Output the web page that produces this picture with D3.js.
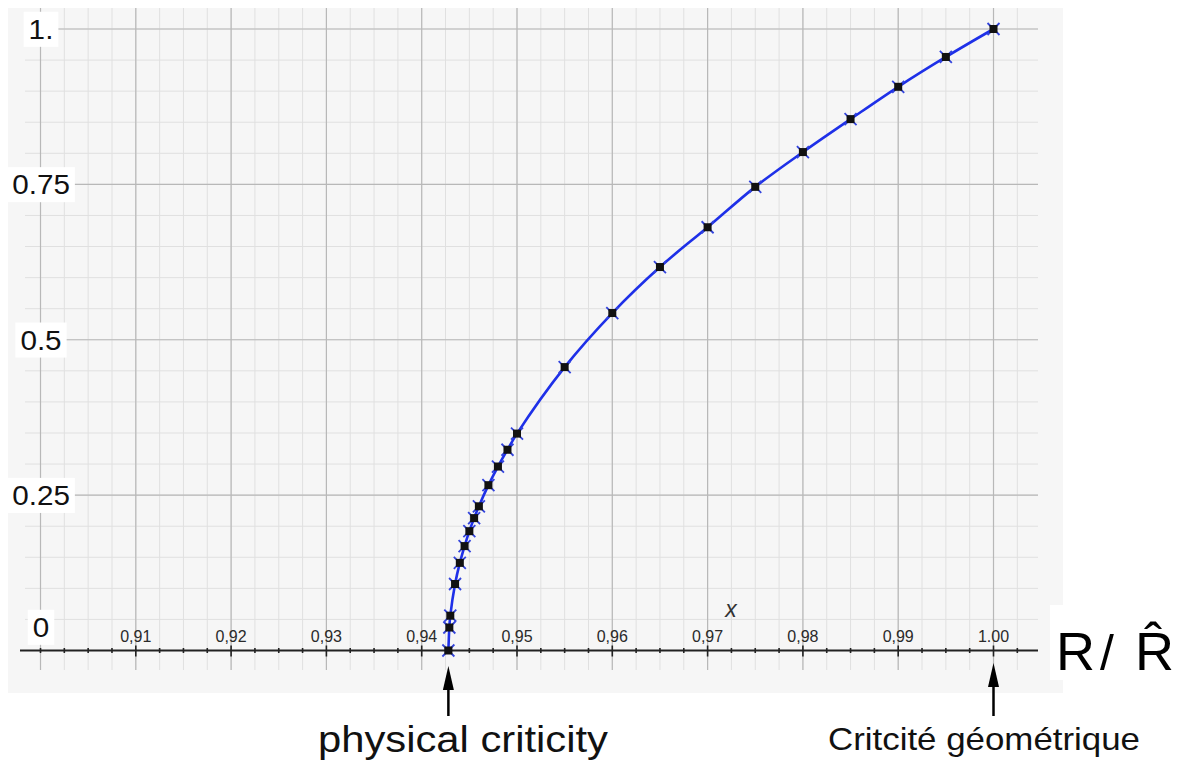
<!DOCTYPE html>
<html>
<head>
<meta charset="utf-8">
<script src="https://cdn.jsdelivr.net/npm/d3@7/dist/d3.min.js"></script>
<style>
  html, body { margin: 0; padding: 0; background: #ffffff; }
  svg { display: block; }
  text { font-family: "Liberation Sans", Arial, Helvetica, sans-serif; }
</style>
</head>
<body>
<svg id="chart" width="1183" height="764"></svg>
<script>
// ---- data ----
const xValues = [0.9428, 0.9429, 0.9430, 0.9435, 0.9440, 0.9445, 0.9450, 0.9455, 0.9460,
                 0.9470, 0.9480, 0.9490, 0.9500, 0.9550, 0.9600, 0.9650, 0.9700, 0.9750,
                 0.9800, 0.9850, 0.9900, 0.9950, 1.0000];
const yValues = [0.000, 0.037, 0.056, 0.107, 0.141, 0.168, 0.192, 0.213, 0.232,
                 0.266, 0.296, 0.323, 0.349, 0.456, 0.543, 0.617, 0.681, 0.746,
                 0.802, 0.855, 0.907, 0.955, 1.000];
const xTickValues = [0.91, 0.92, 0.93, 0.94, 0.95, 0.96, 0.97, 0.98, 0.99, 1.00];
const xTickLabels = ["0,91", "0,92", "0,93", "0,94", "0,95", "0,96", "0,97", "0,98", "0,99", "1.00"];
const yTickValues = [1, 0.75, 0.5, 0.25, 0];
const yTickLabels = ["1.", "0.75", "0.5", "0.25", "0"];
const annotations = ["physical criticity", "Critcité géométrique"];
const annotationX = [0.9428, 1.00];

// ---- scales ----
const x = d3.scaleLinear().domain([0.90, 1.00]).range([40.5, 993.5]);
const y = d3.scaleLinear().domain([0, 1]).range([650.5, 29]);

const svg = d3.select("#chart");

// background panel
svg.append("rect").attr("x", 8).attr("y", 8).attr("width", 1055).attr("height", 685)
  .attr("fill", "#f6f6f6");

// grid
const gx0 = 25, gx1 = 1038, gy0 = 8, gy1 = 670;
const vMinor = d3.range(0, 42).map(i => +(0.90 + i * 0.0025).toFixed(4)).filter(v => x(v) <= gx1);
const vMajor = vMinor.filter(v => Math.abs(v * 100 - Math.round(v * 100)) < 1e-6);
const hMinor = d3.range(0, 21).map(i => +(i * 0.05).toFixed(2));
const hMajor = hMinor.filter(v => Math.abs(v * 4 - Math.round(v * 4)) < 1e-6);

const grid = svg.append("g");
grid.selectAll(".vminor").data(vMinor).join("line")
  .attr("x1", d => x(d)).attr("x2", d => x(d)).attr("y1", gy0).attr("y2", gy1)
  .attr("stroke", "#e0e0e0").attr("stroke-width", 1);
grid.selectAll(".hminor").data(hMinor).join("line")
  .attr("x1", gx0).attr("x2", gx1).attr("y1", d => y(d)).attr("y2", d => y(d))
  .attr("stroke", "#e0e0e0").attr("stroke-width", 1);
grid.selectAll(".vmajor").data(vMajor).join("line")
  .attr("x1", d => x(d)).attr("x2", d => x(d)).attr("y1", gy0).attr("y2", gy1)
  .attr("stroke", "#b8b8b8").attr("stroke-width", 1.2);
grid.selectAll(".hmajor").data(hMajor.filter(v => v > 0)).join("line")
  .attr("x1", gx0).attr("x2", gx1).attr("y1", d => y(d)).attr("y2", d => y(d))
  .attr("stroke", "#b8b8b8").attr("stroke-width", 1.2);

// x axis line with ticks
const axis = svg.append("g");
axis.append("line").attr("x1", 20).attr("x2", 1038).attr("y1", y(0)).attr("y2", y(0))
  .attr("stroke", "#222").attr("stroke-width", 2);
axis.selectAll(".tk").data(vMinor).join("line")
  .attr("x1", d => x(d)).attr("x2", d => x(d))
  .attr("y1", d => y(0) - (xTickValues.some(t => Math.abs(t - d) < 1e-6) ? 5 : 2.5))
  .attr("y2", d => y(0) + (xTickValues.some(t => Math.abs(t - d) < 1e-6) ? 6 : 2.5))
  .attr("stroke", "#222").attr("stroke-width", 1.6);
axis.selectAll(".tl").data(xTickValues).join("text")
  .attr("x", d => x(d)).attr("y", 642)
  .attr("text-anchor", "middle").attr("font-size", 16).attr("fill", "#2a2a2a")
  .text((d, i) => xTickLabels[i]);

// "x" axis name
svg.append("text").attr("x", 731).attr("y", 617).attr("text-anchor", "middle")
  .attr("font-family", "'Liberation Serif', 'DejaVu Serif', serif")
  .attr("font-style", "italic").attr("font-size", 23).attr("fill", "#333").text("x");

// curve
const pts = xValues.map((v, i) => [v, yValues[i]]);
svg.append("path").datum(pts)
  .attr("d", d3.line().x(d => x(d[0])).y(d => y(d[1])).curve(d3.curveCatmullRom.alpha(0.5)))
  .attr("fill", "none").attr("stroke", "#1e30e8").attr("stroke-width", 2.6);

// markers
const mk = svg.append("g").selectAll("g").data(pts).join("g")
  .attr("transform", d => `translate(${x(d[0])},${y(d[1])})`);
mk.append("path").attr("d", "M-6,-6L6,6M-6,6L6,-6")
  .attr("stroke", "#3344dd").attr("stroke-width", 1.8);
mk.append("rect").attr("x", -4).attr("y", -4).attr("width", 8).attr("height", 8)
  .attr("fill", "#111");

// y labels with white boxes
const yl = svg.append("g");
const ys = 1.06;
yTickValues.forEach((v, i) => {
  const g = yl.append("g");
  const by = v === 0 ? 637 : y(v) + 10;
  const t = g.append("text").attr("text-anchor", "middle")
    .attr("transform", `translate(41,${by}) scale(${ys},1)`)
    .attr("font-size", 28).attr("fill", "#111").text(yTickLabels[i]);
  const bb = t.node().getBBox();
  g.insert("rect", "text")
    .attr("x", 41 + bb.x * ys - 5).attr("y", by + bb.y - 2)
    .attr("width", bb.width * ys + 10).attr("height", bb.height + 4)
    .attr("fill", "#ffffff");
});

// R / R-hat label
const rg = svg.append("g");
rg.append("rect").attr("x", 1050).attr("y", 605).attr("width", 133).attr("height", 75).attr("fill", "#fff");
const rt = rg.append("text").attr("y", 670).attr("font-size", 54).attr("fill", "#000")
  .attr("font-family", "'DejaVu Sans', 'Liberation Sans', sans-serif");
rt.append("tspan").attr("x", 1056).text("R");
rt.append("tspan").attr("x", 1100).attr("font-size", 50).text("/");
rt.append("tspan").attr("x", 1135).text("R\u0302");

// arrows and annotations
const arrowTips = [666, 663];
annotationX.forEach((v, i) => {
  const ax = x(v);
  const tip = arrowTips[i];
  svg.append("line").attr("x1", ax).attr("x2", ax).attr("y1", 716).attr("y2", tip + 18)
    .attr("stroke", "#000").attr("stroke-width", 2.5);
  svg.append("path")
    .attr("d", `M${ax},${tip}L${ax - 5.5},${tip + 24}L${ax + 5.5},${tip + 24}Z`)
    .attr("fill", "#000");
});

svg.append("text").attr("x", 318).attr("y", 752)
  .attr("font-size", 36).attr("fill", "#111")
  .attr("textLength", 290).attr("lengthAdjust", "spacingAndGlyphs")
  .text(annotations[0]);
svg.append("text").attr("x", 828).attr("y", 750)
  .attr("font-size", 32).attr("fill", "#111")
  .attr("textLength", 312).attr("lengthAdjust", "spacingAndGlyphs")
  .text(annotations[1]);
</script>
</body>
</html>
